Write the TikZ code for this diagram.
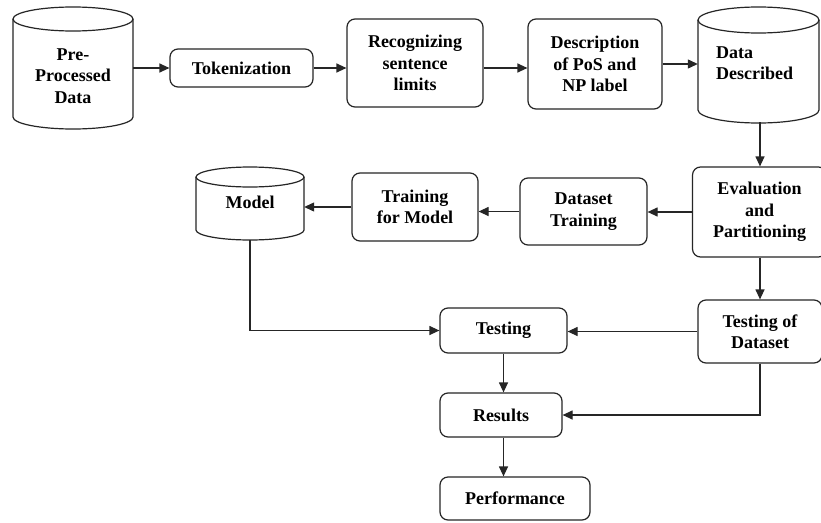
\documentclass[tikz,border=0pt]{standalone}
\usepackage{fontspec}
\setmainfont{Liberation Serif}[BoldFont={Liberation Serif Bold}]
\newfontfamily\tnr{Liberation Serif}[BoldFont={Liberation Serif Bold}]
\usetikzlibrary{arrows.meta}
\tikzset{
  lw/.style={line width=1.2pt, draw=black!85},
  box/.style={lw, rounded corners=8pt, align=center, inner sep=0pt},
  ghost/.style={inner sep=0pt},
  lbl/.style={align=center, inner sep=0pt},
  arr/.style={lw, -{Triangle[length=10pt,width=9pt]}},
  ln/.style={lw}
}
\newcommand\mycyl[6]{% cx, rx, top centre y, bottom centre y, ry, (unused)
  \draw[lw] (#1-#2,-#3) -- (#1-#2,-#4) arc[start angle=180,end angle=360,x radius=#2,y radius=#5] -- (#1+#2,-#3);
  \draw[lw] (#1,-#3) ellipse[x radius=#2,y radius=#5];
}
\begin{document}
\begin{tikzpicture}[x=1pt,y=1pt,font=\tnr\bfseries\fontsize{18}{21.5}\selectfont]
\useasboundingbox (0,0) rectangle (821,-522);
\fill[white] (0,0) rectangle (821,-522);

% cylinders
\mycyl{73}{60}{19}{117}{12}{}
\node[ghost, minimum width=120pt, minimum height=110pt] (pp) at (73,-68) {};
\node[lbl] (pptxt) at (73,-76) {Pre-\\Processed\\Data};

\mycyl{758.5}{60.5}{20}{110}{13}{}
\node[ghost, minimum width=121pt, minimum height=115pt] (dd) at (758.5,-64.5) {};
\node[lbl, anchor=west, align=left] (ddtxt) at (716,-63) {Data\\Described};

\mycyl{250}{54}{177}{230}{10}{}
\node[ghost, minimum width=108pt, minimum height=73pt] (model) at (250,-203.5) {};
\node[lbl] (modeltxt) at (250,-202) {Model};

% boxes
\node[box, minimum width=143pt, minimum height=38pt] (tok) at (241.5,-68) {Tokenization};
\node[box, minimum width=136pt, minimum height=88pt] (rec) at (415,-63) {Recognizing\\sentence\\limits};
\node[box, minimum width=134pt, minimum height=90pt] (desc) at (595,-64) {Description\\of PoS and\\NP label};
\node[box, minimum width=134pt, minimum height=90pt] (eval) at (759.5,-212) {Evaluation\\and\\Partitioning};
\node[box, minimum width=127pt, minimum height=67pt] (dtrain) at (583.5,-211.5) {Dataset\\Training};
\node[box, minimum width=124pt, minimum height=63pt] (tod) at (760,-331.5) {Testing of\\Dataset};
\node[box, minimum width=126pt, minimum height=68pt] (tfm) at (415,-207) {Training\\for Model};
\node[box, minimum width=127pt, minimum height=45pt] (testing) at (503.5,-330.5) {Testing};
\node[box, minimum width=122pt, minimum height=44pt] (results) at (501,-415) {Results};
\node[box, minimum width=150pt, minimum height=43pt] (perf) at (515,-498.5) {Performance};

% connectors
\draw[arr] (pp.east) -- (tok.west);
\draw[arr] (tok.east) -- (tok.east -| rec.west);
\draw[arr] (rec.east |- tok.east) -- (tok.east -| desc.west);
\draw[arr] (desc.east) -- (desc.east -| dd.west);
\draw[arr] (dd.south -| tod.north) -- (tod.north |- eval.north);
\draw[arr] (eval.west) -- (eval.west -| dtrain.east);
\draw[arr] (dtrain.west) -- (dtrain.west -| tfm.east);
\draw[arr] (tfm.west) -- (tfm.west -| model.east);
\draw[arr] (model.south) |- (testing.west);
\draw[arr] (eval.south -| tod.north) -- (tod.north);
\draw[arr] (tod.west) -- (tod.west -| testing.east);
\draw[arr] (testing.south) -- (testing.south |- results.north);
\draw[arr] (tod.south) |- (results.east);
\draw[arr] (results.south -| testing.south) -- (testing.south |- perf.north);
\end{tikzpicture}
\end{document}
